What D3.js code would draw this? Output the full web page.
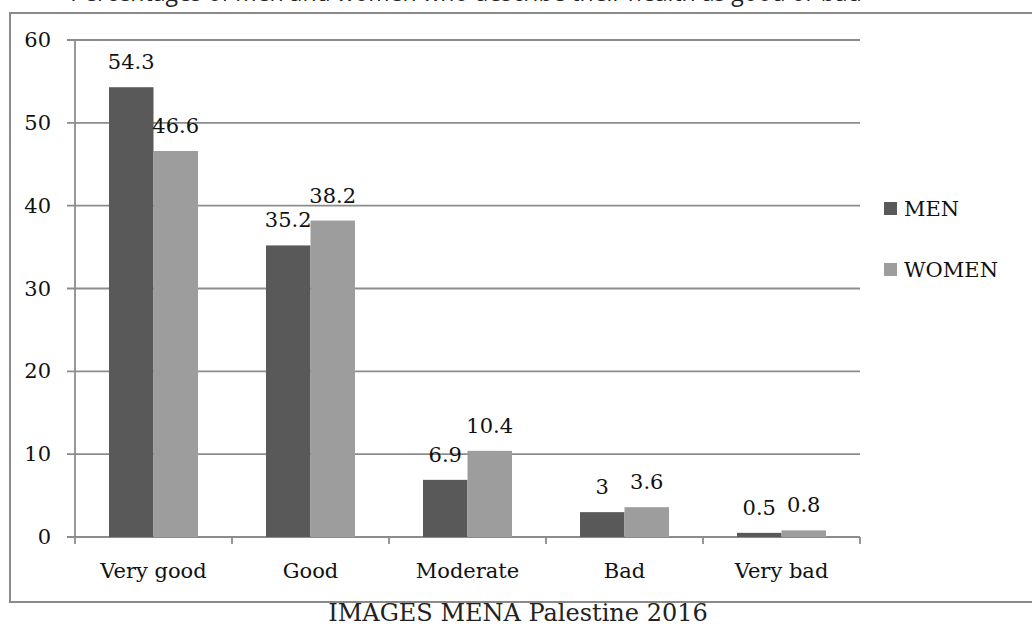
<!DOCTYPE html>
<html><head><meta charset="utf-8">
<script src="https://cdn.jsdelivr.net/npm/d3@7"></script>
<style>body{margin:0;background:#fff}svg{display:block}</style>
</head><body>
<svg id="c" width="1032" height="628"></svg>
<script>
const categories = ["Very good","Good","Moderate","Bad","Very bad"];
const seriesNames = ["MEN","WOMEN"];
const men = [54.3,35.2,6.9,3,0.5];
const women = [46.6,38.2,10.4,3.6,0.8];
const yTicks = [0,10,20,30,40,50,60];
const colors = ["#595959","#9d9d9d"];
const title = "Percentages of men and women who describe their health as good or bad";
const caption = "IMAGES MENA Palestine 2016";

const svg = d3.select("#c");
const serif = "DejaVu Serif, serif";
const sans = "Open Sans, Noto Sans, sans-serif";

svg.append("text").attr("x",466).attr("y",0.5).attr("text-anchor","middle")
  .style("font-family",sans).style("font-size","23px").attr("fill","#222").text(title);

svg.append("rect").attr("x",10).attr("y",13).attr("width",1030).attr("height",589)
  .attr("fill","none").attr("stroke","#8a8a8a").attr("stroke-width",2);

const x0 = d3.scaleBand().domain(categories).range([75,860]).paddingInner(0).paddingOuter(0);
const x1 = d3.scaleBand().domain(seriesNames).range([0,x0.bandwidth()]).paddingInner(0).paddingOuter(0.764);
const y = d3.scaleLinear().domain([0,60]).range([537,40]);

svg.append("g").selectAll("line").data(yTicks).join("line")
  .attr("x1",67).attr("x2",860).attr("y1",d=>y(d)).attr("y2",d=>y(d))
  .attr("stroke","#8c8c8c").attr("stroke-width",1.8);
svg.append("line").attr("x1",75).attr("x2",75).attr("y1",y(60)).attr("y2",y(0))
  .attr("stroke","#8c8c8c").attr("stroke-width",1.8);
const bounds = categories.map(c=>x0(c)).concat([860]);
svg.append("g").selectAll("line").data(bounds).join("line")
  .attr("x1",d=>d).attr("x2",d=>d).attr("y1",y(0)).attr("y2",y(0)+7)
  .attr("stroke","#8c8c8c").attr("stroke-width",1.8);

const fs = "21px";
svg.append("g").selectAll("text").data(yTicks).join("text")
  .attr("x",51).attr("y",d=>y(d)+7).attr("text-anchor","end")
  .style("font-family",serif).style("font-size",fs).attr("fill","#111").text(d=>d);

const data = [];
categories.forEach((c,i)=>{data.push({c,s:"MEN",v:men[i],k:0});data.push({c,s:"WOMEN",v:women[i],k:1});});
svg.append("g").selectAll("rect").data(data).join("rect")
  .attr("x",d=>x0(d.c)+x1(d.s)).attr("width",x1.bandwidth())
  .attr("y",d=>y(d.v)).attr("height",d=>y(0)-y(d.v)).attr("fill",d=>colors[d.k]);

svg.append("g").selectAll("text").data(data).join("text")
  .attr("x",d=>x0(d.c)+x1(d.s)+x1.bandwidth()/2).attr("y",d=>y(d.v)-18)
  .attr("text-anchor","middle").style("font-family",serif).style("font-size",fs)
  .attr("fill","#111").text(d=>d.v);

svg.append("g").selectAll("text").data(categories).join("text")
  .attr("x",d=>x0(d)+x0.bandwidth()/2).attr("y",578).attr("text-anchor","middle")
  .style("font-family",serif).style("font-size",fs).attr("fill","#111").text(d=>d);

const lg = svg.append("g").selectAll("g").data(seriesNames).join("g")
  .attr("transform",(d,i)=>`translate(884,${202+i*61})`);
lg.append("rect").attr("width",13).attr("height",13).attr("fill",(d,i)=>colors[i]);
lg.append("text").attr("x",20).attr("y",14).style("font-family",serif).style("font-size",fs)
  .attr("fill","#111").text(d=>d);

svg.append("text").attr("x",518).attr("y",621).attr("text-anchor","middle")
  .style("font-family",serif).style("font-size","24px").attr("fill","#222").text(caption);
</script>
</body></html>
